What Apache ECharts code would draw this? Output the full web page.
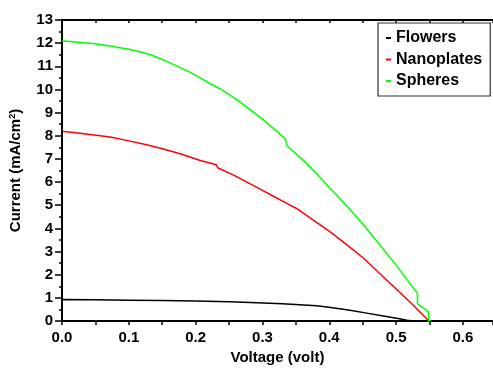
<!DOCTYPE html>
<html>
<head>
<meta charset="utf-8">
<script src="https://cdn.jsdelivr.net/npm/echarts@6/dist/echarts.min.js"></script>
<style>html,body{margin:0;padding:0;background:#fff;}#c{width:493px;height:370px;}</style>
</head>
<body>
<div id="c"></div>
<script>
// Data
const seriesNames = ['Flowers', 'Nanoplates', 'Spheres'];
const seriesColors = ['#000000', '#ff0000', '#00ff00'];

const flowersV = [0, 0, 0.05, 0.1, 0.15, 0.2, 0.25, 0.282, 0.33, 0.381, 0.405, 0.431, 0.456, 0.481, 0.505, 0.516, 0.526, 0.55];
const flowersI = [0.72, 0.93, 0.92, 0.9, 0.88, 0.86, 0.83, 0.80, 0.74, 0.66, 0.57, 0.46, 0.34, 0.22, 0.1, 0.03, 0.0, 0.0];

const nanoplatesV = [0, 0.03, 0.072, 0.1, 0.125, 0.146, 0.177, 0.207, 0.231, 0.233, 0.257, 0.281, 0.3, 0.315, 0.335, 0.351, 0.375, 0.401, 0.425, 0.451, 0.475, 0.501, 0.525, 0.549];
const nanoplatesI = [8.2, 8.1, 7.95, 7.78, 7.62, 7.47, 7.22, 6.93, 6.75, 6.62, 6.3, 5.93, 5.64, 5.41, 5.1, 4.86, 4.38, 3.86, 3.32, 2.72, 2.06, 1.36, 0.7, 0.0];

const spheresV = [0, 0.02, 0.05, 0.072, 0.1, 0.117, 0.135, 0.16, 0.19, 0.207, 0.22, 0.24, 0.257, 0.27, 0.285, 0.3, 0.315, 0.334, 0.337, 0.36, 0.381, 0.401, 0.429, 0.451, 0.475, 0.501, 0.515, 0.532, 0.532, 0.548, 0.549, 0.552];
const spheresI = [12.1, 12.05, 11.97, 11.88, 11.74, 11.63, 11.48, 11.17, 10.77, 10.5, 10.28, 9.97, 9.65, 9.38, 9.05, 8.72, 8.35, 7.87, 7.56, 6.97, 6.37, 5.73, 4.88, 4.16, 3.3, 2.38, 1.83, 1.2, 0.74, 0.41, 0.0, 0.0];

const xTitle = 'Voltage (volt)';
const yTitle = 'Current (mA/cm{sup|2})';

function pairs(v, i) { return v.map((x, k) => [x, i[k]]); }
const allData = [pairs(flowersV, flowersI), pairs(nanoplatesV, nanoplatesI), pairs(spheresV, spheresI)];

const FONT = '"Liberation Sans", Arial, sans-serif';
const chart = echarts.init(document.getElementById('c'), null, {renderer: 'canvas'});
chart.setOption({
  animation: false,
  backgroundColor: '#ffffff',
  grid: {left: 62, top: 20, right: 0, bottom: 46},
  legend: {
    orient: 'vertical',
    left: 378, top: 23,
    data: seriesNames,
    icon: 'rect',
    itemWidth: 5, itemHeight: 2,
    itemGap: 3.5,
    padding: [6, 8, 6, 8],
    borderColor: '#333', borderWidth: 1.2,
    backgroundColor: '#fff',
    textStyle: {fontFamily: FONT, fontWeight: 'bold', fontSize: 16, color: '#000', lineHeight: 18}
  },
  xAxis: [{
    type: 'value', min: 0, max: 0.645, interval: 0.1,
    name: xTitle, nameLocation: 'middle', nameGap: 29,
    nameTextStyle: {fontFamily: FONT, fontWeight: 'bold', fontSize: 15, color: '#000'},
    axisLine: {show: true, onZero: false, lineStyle: {color: '#000', width: 2}},
    axisTick: {show: true, inside: false, length: 4, lineStyle: {color: '#000', width: 1.5}},
    minorTick: {show: true, splitNumber: 2, length: 4, lineStyle: {color: '#000', width: 1.5}},
    splitLine: {show: false},
    axisLabel: {fontFamily: FONT, fontWeight: 'bold', fontSize: 15, color: '#000', margin: 9,
      formatter: v => v.toFixed(1), showMaxLabel: false}
  }, {
    type: 'value', position: 'top', min: 0, max: 0.645, interval: 0.05,
    axisLine: {show: true, onZero: false, lineStyle: {color: '#000', width: 2}},
    axisTick: {show: true, inside: true, length: 3, lineStyle: {color: '#000', width: 1.5}},
    axisLabel: {show: false}, splitLine: {show: false}
  }],
  yAxis: {
    type: 'value', min: 0, max: 13, interval: 1,
    name: yTitle, nameLocation: 'middle', nameGap: 38,
    nameTextStyle: {fontFamily: FONT, fontWeight: 'bold', fontSize: 15, color: '#000',
      rich: {sup: {fontFamily: FONT, fontWeight: 'bold', fontSize: 9, color: '#000', verticalAlign: 'top', lineHeight: 9, padding: [0, 0, 8, 0]}}},
    axisLine: {show: true, onZero: false, lineStyle: {color: '#000', width: 2}},
    axisTick: {show: true, inside: false, length: 7, lineStyle: {color: '#000', width: 1.5}},
    minorTick: {show: true, splitNumber: 2, length: 3, lineStyle: {color: '#000', width: 1.5}},
    splitLine: {show: false},
    axisLabel: {fontFamily: FONT, fontWeight: 'bold', fontSize: 15, color: '#000', margin: 9}
  },
  series: seriesNames.map((n, k) => ({
    name: n, type: 'line', data: allData[k], showSymbol: false, symbol: 'none',
    color: seriesColors[k],
    lineStyle: {color: seriesColors[k], width: 1.5}
  }))
});
</script>
</body>
</html>
